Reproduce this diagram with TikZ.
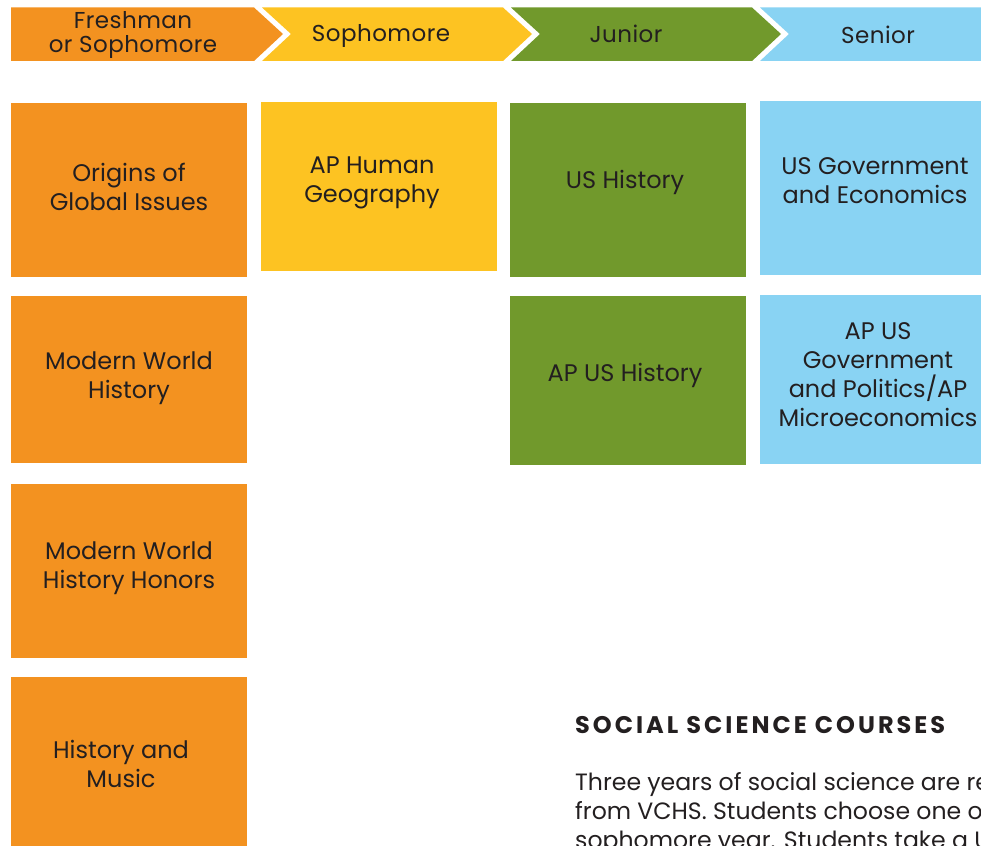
\documentclass[tikz,border=0pt]{standalone}
\usepackage{fontspec}
\setmainfont{Poppins}
\definecolor{corange}{HTML}{F39220}
\definecolor{cyellow}{HTML}{FDC322}
\definecolor{cgreen}{HTML}{71992C}
\definecolor{cblue}{HTML}{89D3F3}
\definecolor{ctext}{HTML}{231F20}
\tikzset{
  boxtext/.style={text=ctext, align=center, inner sep=0pt, font=\fontsize{24}{29}\selectfont},
  headtext/.style={text=ctext, align=center, inner sep=0pt, font=\fontsize{23}{24}\selectfont\addfontfeatures{LetterSpace=2}},
  bodytext/.style={anchor=base west, inner sep=0pt, text=ctext, font=\fontsize{23.6}{29}\selectfont},
}
\begin{document}
\begin{tikzpicture}[x=1pt,y=-1pt]
\useasboundingbox (0,0) rectangle (981,845);
\clip (0,0) rectangle (981,845);
% header chevrons
\fill[corange] (11,7.5) -- (254,7.5) -- (283,34) -- (254,61) -- (11,61) -- cycle;
\fill[cyellow] (262,7.5) -- (503,7.5) -- (532,34) -- (503,61) -- (262,61) -- (291,34) -- cycle;
\fill[cgreen] (511,7.5) -- (752,7.5) -- (781,34) -- (752,61) -- (511,61) -- (540,34) -- cycle;
\fill[cblue] (760,7.5) -- (1001,7.5) -- (1030,34) -- (1001,61) -- (760,61) -- (789,34) -- cycle;
\node[headtext] (h1) at (133,34.5) {Freshman\\or Sophomore};
\node[headtext] (h2) at (381,35.5) {Sophomore};
\node[headtext] (h3) at (626,33.5) {Junior};
\node[headtext] (h4) at (878,34.5) {Senior};
% course boxes
\fill[corange] (11,103) rectangle (247,277) coordinate (b1);
\fill[corange] (11,296) rectangle (247,463) coordinate (b2);
\fill[corange] (11,484) rectangle (247,658) coordinate (b3);
\fill[corange] (11,677) rectangle (247,860) coordinate (b4);
\fill[cyellow] (261,102) rectangle (497,271) coordinate (b5);
\fill[cgreen] (510,103) rectangle (746,277) coordinate (b6);
\fill[cgreen] (510,296) rectangle (746,465) coordinate (b7);
\fill[cblue] (760,101) rectangle (996,275) coordinate (b8);
\fill[cblue] (760,295) rectangle (996,464) coordinate (b9);
\node[boxtext] (t1) at (129,187) {Origins of\\Global Issues};
\node[boxtext] (t2) at (129,378) {Modern World\\History};
\node[boxtext] (t3) at (129,568) {Modern World\\History Honors};
\node[boxtext] (t4) at (121,764) {History and\\Music};
\node[boxtext] (t5) at (372,183) {AP Human\\Geography};
\node[boxtext] (t6) at (625,182) {US History};
\node[boxtext] (t7) at (625,375) {AP US History};
\node[boxtext] (t8) at (875,181) {US Government\\and Economics};
\node[boxtext] (t9) at (878,375) {AP US\\Government\\and Politics/AP\\Microeconomics};
% text block
\node[anchor=base west, inner sep=0pt, text=ctext, font=\fontsize{24}{29}\bfseries\selectfont\addfontfeatures{LetterSpace=12.5}] (title) at (575,733) {SOCIAL SCIENCE COURSES};
\node[bodytext] (l1) at (575,790) {Three years of social science are required};
\node[bodytext] (l2) at (575,819) {from VCHS. Students choose one of};
\node[bodytext] (l3) at (575,848) {sophomore year. Students take a US};
\end{tikzpicture}
\end{document}
